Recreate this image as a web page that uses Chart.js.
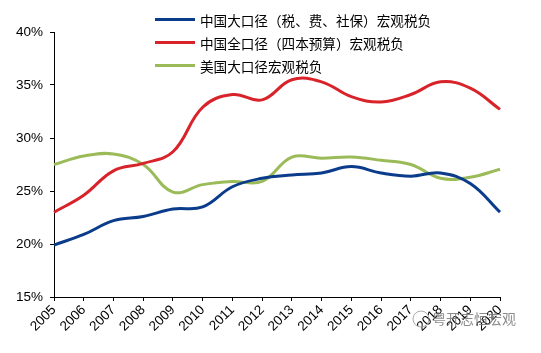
<!DOCTYPE html>
<html>
<head>
<meta charset="utf-8">
<script src="https://cdn.jsdelivr.net/npm/chart.js@4"></script>
<style>
  html, body { margin: 0; padding: 0; background: #fff; }
  #wrap { position: relative; width: 541px; height: 353px; }
  #legend { position: absolute; left: 155px; top: 8px; font-family: "Noto Sans CJK SC", "Noto Sans", sans-serif; font-size: 13.6px; color: #000; }
  .item { display: flex; align-items: center; height: 23px; }
  .swatch { width: 40px; height: 3px; margin-right: 5px; }
</style>
</head>
<body>
<div id="wrap">
  <canvas id="taxChart" width="541" height="353"></canvas>
  <div id="legend"></div>
</div>
<script>
const years = ['2005', '2006', '2007', '2008', '2009', '2010', '2011', '2012', '2013', '2014', '2015', '2016', '2017', '2018', '2019', '2020'];

const chinaBroad = [19.9, 20.9, 22.2, 22.6, 23.3, 23.5, 25.4, 26.2, 26.5, 26.7, 27.3, 26.7, 26.4, 26.7, 25.7, 23.0];
const chinaFull = [23.0, 24.6, 26.9, 27.6, 28.7, 32.9, 34.1, 33.6, 35.5, 35.3, 33.9, 33.4, 34.1, 35.3, 34.7, 32.7];
const usBroad = [27.5, 28.3, 28.5, 27.5, 24.9, 25.6, 25.9, 25.9, 28.2, 28.1, 28.2, 27.9, 27.5, 26.2, 26.3, 27.05];

const yTicks = [15, 20, 25, 30, 35, 40];

const ctx = document.getElementById('taxChart').getContext('2d');

const series = [
    { label: '中国大口径（税、费、社保）宏观税负', data: chinaBroad, color: '#0B3C8C' },
    { label: '中国全口径（四本预算）宏观税负', data: chinaFull, color: '#D9232B' },
    { label: '美国大口径宏观税负', data: usBroad, color: '#9BBB59' }
];

// watermark at the bottom right
const watermark = {
    id: 'watermark',
    afterDraw(chart) {
        const c = chart.ctx;
        c.save();
        c.font = '14px "Noto Sans CJK SC"';
        c.fillStyle = 'rgba(120,120,120,0.85)';
        c.textBaseline = 'middle';
        c.fillText('粤开志恒宏观', 432, 319);
        c.beginPath();
        c.strokeStyle = 'rgba(150,150,150,0.8)';
        c.lineWidth = 1;
        c.arc(421, 319, 8, 0, Math.PI * 2);
        c.stroke();
        c.restore();
    }
};

new Chart(ctx, {
    type: 'line',
    data: {
        labels: years,
        datasets: series.map(s => ({
            label: s.label,
            data: s.data,
            borderColor: s.color,
            backgroundColor: s.color,
            borderWidth: 3,
            pointRadius: 0,
            tension: 0.4,
            fill: false
        }))
    },
    options: {
        responsive: false,
        animation: false,
        layout: { padding: { top: 32, right: 41, left: 0, bottom: 0 } },
        plugins: {
            legend: { display: false },
            tooltip: { enabled: false }
        },
        scales: {
            x: {
                offset: false,
                grid: { drawOnChartArea: false, drawTicks: true, tickLength: 4, color: '#000' },
                border: { color: '#000', width: 1 },
                ticks: {
                    color: '#000',
                    font: { family: 'Liberation Sans, Arial', size: 13.5 },
                    minRotation: 45,
                    maxRotation: 45,
                    autoSkip: false,
                    padding: 1
                },
                afterFit: scale => { scale.height = 56; }
            },
            y: {
                min: 15,
                max: 40,
                afterBuildTicks: scale => { scale.ticks = yTicks.map(v => ({ value: v })); },
                grid: { drawOnChartArea: false, drawTicks: true, tickLength: 4, color: '#000' },
                border: { color: '#000', width: 1 },
                ticks: {
                    color: '#000',
                    font: { family: 'Liberation Sans, Arial', size: 13.5 },
                    padding: 7,
                    callback: v => v + '%'
                },
                afterFit: scale => { scale.width = 54; }
            }
        }
    },
    plugins: [watermark]
});

const legend = document.getElementById('legend');
series.forEach(s => {
    const row = document.createElement('div');
    row.className = 'item';
    row.innerHTML = `<span class="swatch" style="background:${s.color}"></span><span>${s.label}</span>`;
    legend.appendChild(row);
});
</script>
</body>
</html>
